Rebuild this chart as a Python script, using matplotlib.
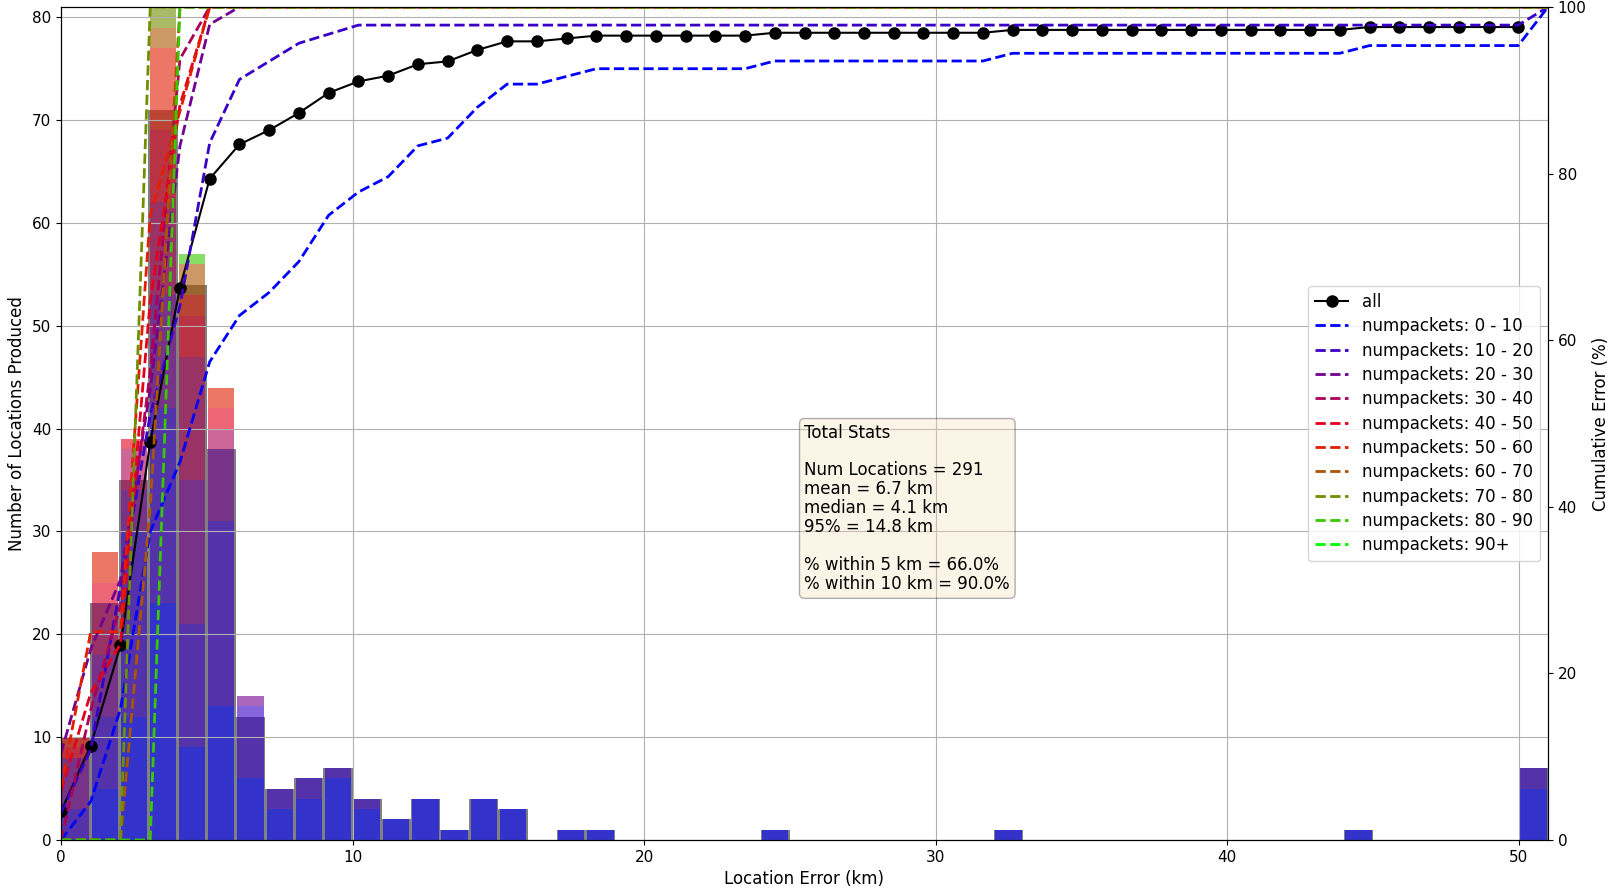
import numpy as np
import matplotlib
matplotlib.use("Agg")
import matplotlib.pyplot as plt

plt.rcParams['font.family'] = ['DejaVu Sans']
plt.rcParams['font.size'] = 12

# ---------------- data ----------------
# histogram bins (km): 51 bins of 1 km, last bin holds errors >= 50 km
bar_edges = np.arange(0, 52)
# edges used for the cumulative curves
line_edges = np.linspace(0, 51, 51)

# all locations per bin (gray histogram)
all_counts = [10, 23, 35, 71, 54, 38, 12, 5, 6, 7, 4, 2, 4, 1, 4, 3, 0, 1, 1, 0,
              0, 0, 0, 0, 1, 0, 0, 0, 0, 0, 0, 0, 1, 0, 0, 0, 0, 0, 0, 0,
              0, 0, 0, 0, 1, 0, 0, 0, 0, 0, 7]

# per numpackets category, counts per bin (trailing bins are zero)
np_0_10 = [0, 5, 12, 23, 9, 13, 6, 3, 4, 6, 3, 2, 4, 1, 4, 3, 0, 1, 1, 0,
           0, 0, 0, 0, 1, 0, 0, 0, 0, 0, 0, 0, 1, 0, 0, 0, 0, 0, 0, 0,
           0, 0, 0, 0, 1, 0, 0, 0, 0, 0, 5]
np_10_20 = [3, 7, 18, 19, 12, 18, 7, 2, 2, 1, 1, 0, 0, 0, 0, 0, 0, 0, 0, 0,
            0, 0, 0, 0, 0, 0, 0, 0, 0, 0, 0, 0, 0, 0, 0, 0, 0, 0, 0, 0,
            0, 0, 0, 0, 0, 0, 0, 0, 0, 0, 2]
np_20_30 = [5, 6, 4, 11, 14, 7, 1]
np_30_40 = [0, 5, 4, 9, 12, 2]
np_40_50 = [1, 2, 1, 7, 4, 2]
np_50_60 = [1, 3, 0, 8, 2, 2]
np_60_70 = [0, 0, 0, 2, 3]
np_70_80 = [0, 0, 0, 3]
np_80_90 = [0, 0, 0, 0, 1]
np_90_up = []

category_counts = [np_0_10, np_10_20, np_20_30, np_30_40, np_40_50,
                   np_50_60, np_60_70, np_70_80, np_80_90, np_90_up]
category_labels = ['numpackets: 0 - 10', 'numpackets: 10 - 20', 'numpackets: 20 - 30',
                   'numpackets: 30 - 40', 'numpackets: 40 - 50', 'numpackets: 50 - 60',
                   'numpackets: 60 - 70', 'numpackets: 70 - 80', 'numpackets: 80 - 90',
                   'numpackets: 90+']

stats_mean = 6.7
stats_median = 4.1
stats_p95 = 14.8
within_5 = 66.0
within_10 = 90.0

# ---------------- plot ----------------
nb = len(bar_edges) - 1
all_arr = np.array(all_counts, dtype=float)
cats = []
for c in category_counts:
    a = np.zeros(nb)
    a[:len(c)] = c
    cats.append(a)

colors = plt.cm.brg(np.linspace(0, 1, len(cats)))

fig = plt.figure(figsize=(16.16, 8.92), dpi=100)
ax = fig.add_axes([61 / 1616, 52 / 892, 1487 / 1616, 833 / 892])

ax.bar(bar_edges[:-1], all_arr, width=1.0, align='edge', color='gray')
bottom = np.zeros(nb)
centers = bar_edges[:-1] + 0.5
for a, col in zip(cats, colors):
    ax.bar(centers, a, width=0.9, bottom=bottom, color=col, alpha=0.6)
    bottom = bottom + a

ax.set_xlim(0, 51)
ax.set_ylim(0, 81)
ax.set_yticks(np.arange(0, 81, 10))
ax.grid(True)
ax.set_xlabel('Location Error (km)')
ax.set_ylabel('Number of Locations Produced')
ax.tick_params(labelsize=11)

ax2 = ax.twinx()
N_all = all_arr.sum()
cum_all = np.cumsum(all_arr) / N_all * 100
ax2.plot(line_edges[:-1], cum_all[:-1], 'k-o', lw=1.5, ms=8, label='all')
for a, col, lab in zip(cats, colors, category_labels):
    tot = a.sum()
    with np.errstate(invalid='ignore', divide='ignore'):
        cum = np.cumsum(a) / tot * 100 if tot > 0 else np.full(nb, np.nan)
    ax2.plot(line_edges, cum, '--', color=col, lw=2.0, label=lab)
ax2.set_ylim(0, 100)
ax2.set_ylabel('Cumulative Error (%)')
ax2.tick_params(labelsize=11)
ax2.legend(loc='center right', labelspacing=0.38)

stats = ('Total Stats\n\n'
         f'Num Locations = {int(N_all)}\n'
         f'mean = {stats_mean:.1f} km\n'
         f'median = {stats_median:.1f} km\n'
         f'95% = {stats_p95:.1f} km\n\n'
         f'% within 5 km = {within_5:.1f}%\n'
         f'% within 10 km = {within_10:.1f}%')
ax2.text(0.5, 0.5, stats, transform=ax2.transAxes, va='top', ha='left',
         linespacing=1.07,
         bbox=dict(boxstyle='round', facecolor='wheat', alpha=0.3))

fig.savefig('out.png', dpi=100)
